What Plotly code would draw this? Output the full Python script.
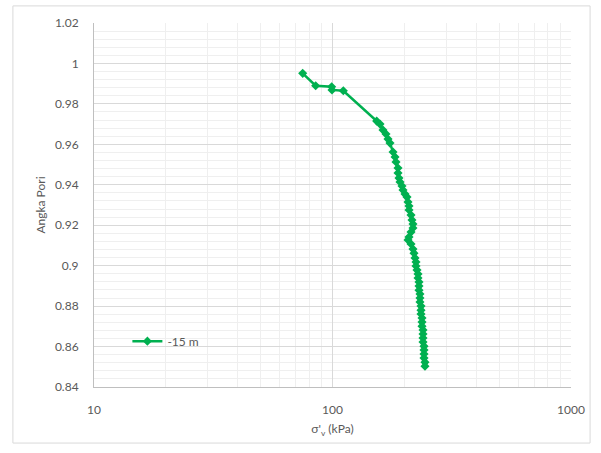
import plotly.graph_objects as go

# Effective vertical stress (kPa) and void ratio, series "-15 m"
sigma_v = [75.0, 85.0, 99.2, 99.5, 111.0, 153.2, 158.2, 162.8, 167.6, 170.9,
           174.2, 179.4, 182.9, 184.6, 188.2, 188.2, 190.0, 191.9, 195.6, 197.5,
           201.4, 205.3, 207.3, 209.3, 209.3, 213.4, 215.4, 217.5, 217.5, 213.4,
           209.3, 207.3, 213.4, 217.5, 219.6, 221.8, 223.9, 223.9, 226.1, 228.3,
           228.3, 230.5, 230.5, 230.5, 232.7, 232.7, 232.7, 235.0, 235.0, 235.0,
           237.3, 237.3, 237.3, 239.6, 239.6, 239.6, 239.6, 241.9, 241.9, 241.9,
           241.9, 244.2, 244.2]
void_ratio = [0.9951, 0.9890, 0.9885, 0.9869, 0.9865, 0.9715, 0.9700, 0.9671, 0.9651, 0.9626,
              0.9606, 0.9562, 0.9537, 0.9513, 0.9483, 0.9458, 0.9433, 0.9414, 0.9394, 0.9374,
              0.9354, 0.9339, 0.9315, 0.9295, 0.9275, 0.9250, 0.9226, 0.9206, 0.9186, 0.9166,
              0.9142, 0.9127, 0.9107, 0.9082, 0.9062, 0.9038, 0.9018, 0.8998, 0.8978, 0.8959,
              0.8939, 0.8919, 0.8899, 0.8879, 0.8860, 0.8840, 0.8820, 0.8800, 0.8780, 0.8761,
              0.8741, 0.8721, 0.8701, 0.8682, 0.8662, 0.8642, 0.8622, 0.8602, 0.8583, 0.8563,
              0.8543, 0.8523, 0.8503]
series_name = "-15 m"

y_tickvals = [0.84, 0.86, 0.88, 0.90, 0.92, 0.94, 0.96, 0.98, 1.00, 1.02]
y_ticktext = ["0.84", "0.86", "0.88", "0.9", "0.92", "0.94", "0.96", "0.98", "1", "1.02"]
x_tickvals = [10, 100, 1000]
x_ticktext = ["10", "100", "1000"]

GREEN = "#00B050"
TXT = "#595959"
FONT = "Lato"

fig = go.Figure()
fig.add_trace(go.Scatter(
    x=sigma_v, y=void_ratio, name=series_name, mode="lines+markers",
    line=dict(color=GREEN, width=2.5),
    marker=dict(symbol="diamond", size=7, color=GREEN),
))

fig.update_layout(
    width=601, height=453,
    margin=dict(l=94, r=30, t=23, b=66),
    paper_bgcolor="white", plot_bgcolor="white",
    font=dict(family=FONT, size=12, color=TXT),
    showlegend=True,
    legend=dict(x=0.07, y=0.126, xanchor="left", yanchor="middle",
                bgcolor="rgba(0,0,0,0)", font=dict(size=12, color=TXT)),
    xaxis=dict(
        type="log", range=[1, 3],
        tickvals=x_tickvals, ticktext=x_ticktext,
        showgrid=True, gridcolor="#D9D9D9", gridwidth=1,
        minor=dict(showgrid=True, dtick="D1", gridcolor="#EFEFEF", gridwidth=1),
        showline=True, linecolor="#BFBFBF", linewidth=1,
        zeroline=False, ticks="", ticklabelstandoff=12,
        title=dict(text="σ'<sub>v</sub> (kPa)", standoff=8, font=dict(size=12, color=TXT)),
    ),
    yaxis=dict(
        range=[0.84, 1.02],
        tickvals=y_tickvals, ticktext=y_ticktext,
        showgrid=True, gridcolor="#D9D9D9", gridwidth=1,
        minor=dict(showgrid=True, dtick=0.004, tick0=0.84, gridcolor="#EFEFEF", gridwidth=1),
        showline=True, linecolor="#BFBFBF", linewidth=1,
        zeroline=False, ticks="", ticklabelstandoff=12,
        title=dict(text="Angka Pori", standoff=6, font=dict(size=12, color=TXT)),
    ),
    shapes=[dict(type="rect", xref="paper", yref="paper",
                 x0=-0.170, x1=1.040, y0=-0.154, y1=1.047,
                 line=dict(color="#D9D9D9", width=1), fillcolor="rgba(0,0,0,0)",
                 layer="below")],
)

fig.write_html("out.html")
